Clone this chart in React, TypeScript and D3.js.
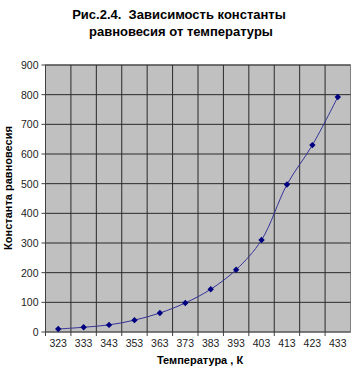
import React from "react";
import * as d3 from "d3";

const temperatures = ["323", "333", "343", "353", "363", "373", "383", "393", "403", "413", "423", "433"];
const constants = [10, 16, 24, 40, 64, 98, 144, 210, 310, 497, 630, 792];
const yTicks = [0, 100, 200, 300, 400, 500, 600, 700, 800, 900];

const W = 356, H = 372;
const m = { left: 45.5, right: 5.5, top: 65, bottom: 40 };

export default function App() {
  const x = d3.scaleBand().domain(temperatures).range([m.left, W - m.right]).padding(0);
  const y = d3.scaleLinear().domain([0, 900]).range([H - m.bottom, m.top]);
  const pts: [number, number][] = temperatures.map((t, i) => [x(t)! + x.bandwidth() / 2, y(constants[i])]);
  const line = d3.line().curve(d3.curveCatmullRom.alpha(0.5))(pts) || "";
  const font = "'Liberation Sans', Arial, sans-serif";
  const x0 = m.left, x1 = W - m.right, y0 = y(0), y1 = y(900);
  return (
    <svg width={W} height={H} style={{ position: "absolute", left: 0, top: 0, background: "#fff" }} fontFamily={font}>
      <text x={179} y={19} textAnchor="middle" fontSize={13} fontWeight="bold" style={{ whiteSpace: "pre" }}>Рис.2.4.  Зависимость константы</text>
      <text x={181} y={36} textAnchor="middle" fontSize={13} fontWeight="bold">равновесия от температуры</text>
      <rect x={x0} y={y1} width={x1 - x0} height={y0 - y1} fill="#c0c0c0" stroke="#808080" />
      {yTicks.map(t => (
        <g key={t}>
          {t > 0 && <line x1={x0} x2={x1} y1={y(t)} y2={y(t)} stroke="#2a2a2a" strokeWidth={1} />}
          <line x1={x0 - 4} x2={x0} y1={y(t)} y2={y(t)} stroke="#404040" />
          <text x={x0 - 7} y={y(t) + 4} textAnchor="end" fontSize={10.5} fill="#222">{t}</text>
        </g>
      ))}
      {temperatures.map((t, i) => (
        <g key={t}>
          {i > 0 && <line x1={x(t)} x2={x(t)} y1={y1} y2={y0} stroke="#2a2a2a" strokeWidth={1} />}
          <line x1={x(t)} x2={x(t)} y1={y0} y2={y0 + 4} stroke="#404040" />
          <text x={x(t)! + x.bandwidth() / 2} y={y0 + 15} textAnchor="middle" fontSize={10.5} fill="#222">{t}</text>
        </g>
      ))}
      <line x1={x0} x2={x0} y1={y1} y2={y0} stroke="#404040" />
      <line x1={x0} x2={x1} y1={y0} y2={y0} stroke="#404040" />
      <path d={line} fill="none" stroke="#333399" strokeWidth={1} />
      {pts.map(([px, py], i) => (
        <path key={i} d={`M${px},${py - 3.2}L${px + 3.2},${py}L${px},${py + 3.2}L${px - 3.2},${py}Z`} fill="#000080" />
      ))}
      <text x={200} y={364} textAnchor="middle" fontSize={11} fontWeight="bold">Температура , К</text>
      <text transform={`translate(12,188) rotate(-90)`} textAnchor="middle" fontSize={11} fontWeight="bold">Константа равновесия</text>
    </svg>
  );
}
